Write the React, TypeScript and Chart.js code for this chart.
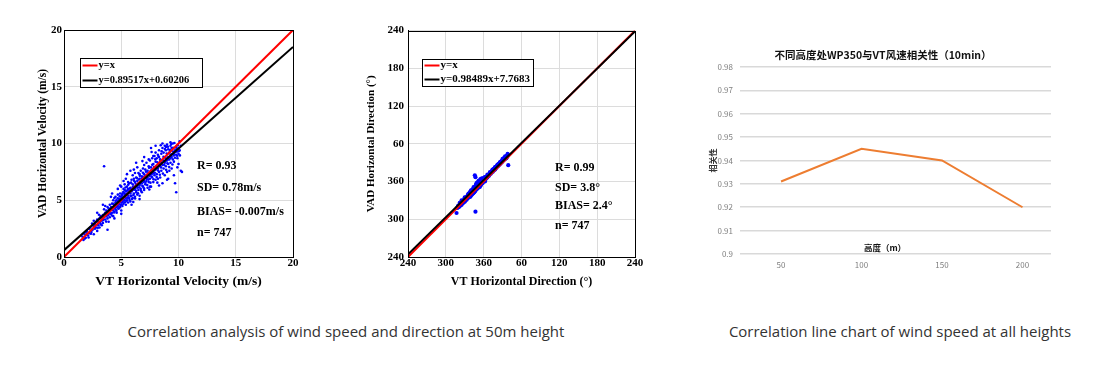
import React, { useEffect, useRef } from "react";
import { Chart, registerables } from "chart.js";

Chart.register(...registerables);

// ---------- Data ----------
const speedRange = [0, 20];
const speedTicks = [0, 5, 10, 15, 20];
const speedFit = { slope: 0.89517, intercept: 0.60206 };
const speedStats = ["R= 0.93", "SD= 0.78m/s", "BIAS= -0.007m/s", "n= 747"];
const speedLegend = ["y=x", "y=0.89517x+0.60206"];

// VT speed (x), VAD speed (y), m/s
const speedPairs: number[][] = [
  [1.6, 1.8], [1.7, 1.5], [1.8, 2.0], [1.9, 1.7], [2.0, 2.3], [2.1, 1.9], [2.2, 2.5], [2.2, 2.1], [2.3, 2.6], [2.4, 2.2],
  [2.5, 2.8], [2.5, 2.4], [2.6, 2.0], [2.7, 2.9], [2.7, 2.5], [2.8, 3.1], [2.8, 2.6], [2.9, 2.3], [2.9, 3.3], [3.0, 2.8],
  [3.0, 3.1], [3.1, 2.6], [3.1, 3.4], [3.2, 2.9], [3.2, 3.6], [3.3, 3.2], [3.3, 2.8], [3.4, 3.7], [3.4, 3.0], [3.5, 3.5],
  [3.5, 8.0], [3.5, 4.2], [3.6, 3.3], [3.6, 3.9], [3.8, 2.4], [3.7, 3.6], [3.7, 4.1], [3.8, 3.4], [3.8, 4.4], [3.9, 3.8],
  [3.9, 3.1], [4.0, 4.0], [4.0, 4.6], [4.0, 3.5], [4.1, 4.2], [4.1, 3.8], [4.2, 4.7], [4.2, 3.9], [4.3, 4.3], [4.3, 5.0],
  [4.3, 3.6], [4.4, 4.5], [4.4, 4.0], [4.5, 4.8], [4.5, 4.2], [4.5, 5.3], [4.6, 4.4], [4.6, 3.9], [4.7, 4.9], [4.7, 4.5],
  [4.7, 5.5], [4.8, 4.3], [4.8, 5.1], [4.8, 4.7], [4.9, 5.0], [4.9, 4.4], [4.9, 5.6], [5.0, 4.8], [5.0, 5.3], [5.0, 4.1],
  [5.0, 6.2], [5.1, 5.0], [5.1, 5.6], [5.1, 4.5], [5.2, 5.3], [5.2, 6.0], [5.2, 4.7], [5.3, 5.5], [5.3, 5.0], [5.3, 6.4],
  [5.4, 5.2], [5.4, 5.8], [5.4, 4.6], [5.5, 5.6], [5.5, 6.2], [5.5, 5.0], [5.5, 7.3], [5.6, 5.4], [5.6, 6.0], [5.6, 4.8],
  [5.7, 5.8], [5.7, 6.5], [5.7, 5.2], [5.8, 5.6], [5.8, 6.1], [5.8, 4.9], [5.9, 6.0], [5.9, 6.8], [5.9, 5.4], [6.0, 5.9],
  [6.0, 6.4], [6.0, 5.2], [6.0, 7.2], [6.1, 6.2], [6.1, 5.6], [6.1, 6.9], [6.2, 6.0], [6.2, 6.6], [6.2, 5.3], [6.3, 6.3],
  [6.3, 7.0], [6.3, 5.7], [6.4, 6.1], [6.4, 6.7], [6.4, 5.5], [6.5, 6.5], [6.5, 7.4], [6.5, 5.9], [6.6, 6.3], [6.6, 6.9],
  [6.6, 5.4], [6.7, 6.7], [6.7, 7.6], [6.7, 6.0], [6.8, 6.5], [6.8, 7.1], [6.8, 5.7], [6.9, 6.9], [6.9, 7.8], [6.9, 6.2],
  [7.0, 6.7], [7.0, 7.3], [7.0, 5.9], [7.0, 8.1], [7.1, 7.0], [7.1, 6.4], [7.1, 7.7], [7.2, 7.2], [7.2, 6.7], [7.2, 8.3],
  [7.3, 7.0], [7.3, 7.6], [7.3, 6.1], [7.4, 7.3], [7.4, 8.0], [7.4, 6.6], [7.5, 7.5], [7.5, 8.5], [7.5, 6.9], [7.6, 7.3],
  [7.6, 7.9], [7.6, 6.2], [7.7, 7.7], [7.7, 8.7], [7.7, 7.0], [7.8, 7.5], [7.8, 8.2], [7.8, 6.6], [7.9, 7.9], [7.9, 8.9],
  [7.9, 7.2], [8.0, 7.7], [8.0, 8.4], [8.0, 6.8], [8.0, 9.2], [8.1, 8.0], [8.1, 7.3], [8.1, 8.7], [8.2, 7.8], [8.2, 9.0],
  [8.2, 6.9], [8.3, 8.2], [8.3, 7.5], [8.3, 9.4], [8.4, 8.0], [8.4, 8.6], [8.4, 7.0], [8.5, 8.3], [8.5, 9.1], [8.5, 7.6],
  [8.6, 8.1], [8.6, 9.6], [8.6, 6.5], [8.7, 8.5], [8.7, 7.8], [8.7, 9.2], [8.8, 8.3], [8.8, 9.8], [8.8, 7.2], [8.9, 8.7],
  [8.9, 8.0], [8.9, 9.4], [9.0, 8.5], [9.0, 7.5], [9.0, 9.9], [9.1, 8.8], [9.1, 8.2], [9.1, 9.5], [9.2, 8.6], [9.2, 9.2],
  [9.2, 7.6], [9.3, 9.0], [9.3, 8.3], [9.3, 9.8], [9.4, 8.8], [9.4, 7.8], [9.5, 9.3], [9.5, 8.6], [9.5, 10.0], [9.6, 9.1],
  [9.6, 8.4], [9.7, 9.4], [9.7, 6.5], [9.8, 9.0], [9.8, 5.7], [9.8, 9.7], [9.9, 9.3], [9.9, 8.7], [10.0, 9.6], [10.0, 9.1],
  [10.1, 10.2], [10.1, 9.4], [10.2, 7.6], [10.3, 7.5], [10.2, 9.8], [6.2, 7.4], [5.6, 6.6], [4.4, 5.2], [3.6, 4.5], [2.6, 3.2],
  [7.4, 8.6], [8.3, 8.8], [6.9, 7.0], [5.3, 5.9], [4.6, 5.0], [3.9, 4.3], [6.6, 7.3], [7.8, 8.9], [8.9, 9.7], [9.4, 9.6],
  [2.35, 2.05], [2.63, 2.71], [2.95, 2.58], [3.15, 3.02], [3.27, 3.49], [3.42, 3.25], [3.55, 3.78], [3.68, 3.12], [3.73, 3.95], [3.86, 3.67],
  [3.94, 4.21], [4.05, 3.83], [4.12, 4.41], [4.18, 3.66], [4.27, 4.12], [4.33, 4.68], [4.38, 3.93], [4.46, 4.33], [4.52, 4.95], [4.58, 4.07],
  [4.63, 4.62], [4.69, 5.18], [4.74, 4.26], [4.81, 4.88], [4.86, 5.34], [4.92, 4.59], [4.97, 5.12], [5.03, 4.63], [5.07, 5.45], [5.13, 4.86],
  [5.18, 5.72], [5.24, 5.07], [5.29, 5.61], [5.33, 4.82], [5.37, 6.12], [5.42, 5.43], [5.46, 4.95], [5.52, 5.85], [5.57, 5.21], [5.61, 6.37],
  [5.66, 5.63], [5.72, 5.05], [5.76, 6.02], [5.81, 5.38], [5.86, 6.55], [5.91, 5.77], [5.95, 5.12], [6.02, 6.18], [6.07, 5.46], [6.12, 6.72],
  [6.16, 5.93], [6.21, 5.15], [6.26, 6.45], [6.31, 5.84], [6.36, 6.95], [6.41, 6.28], [6.46, 5.62], [6.52, 6.83], [6.57, 6.12], [6.62, 7.15],
  [6.68, 6.46], [6.73, 5.83], [6.78, 6.92], [6.84, 6.28], [6.89, 7.42], [6.94, 6.62], [6.99, 6.05], [7.05, 7.12], [7.11, 6.55], [7.16, 7.52],
  [7.22, 6.88], [7.27, 6.35], [7.33, 7.38], [7.38, 6.82], [7.43, 7.86], [7.49, 7.15], [7.55, 6.55], [7.61, 7.62], [7.66, 7.08], [7.71, 8.12],
  [7.76, 7.35], [7.82, 6.85], [7.87, 7.92], [7.93, 7.42], [7.98, 8.62], [8.04, 7.95], [8.09, 7.05], [8.15, 8.35], [8.21, 7.62], [8.26, 8.85],
  [8.32, 8.02], [8.37, 7.25], [8.42, 8.45], [8.48, 7.88], [8.53, 9.32], [8.58, 8.52], [8.64, 7.35], [8.69, 8.82], [8.75, 8.12], [8.81, 9.52],
  [8.86, 8.42], [8.92, 7.68], [8.97, 9.12], [9.03, 8.25], [9.08, 9.72], [9.14, 8.62], [9.19, 7.92], [9.25, 9.42], [9.31, 8.72], [9.36, 9.95],
  [9.42, 9.05], [9.47, 8.15], [9.53, 9.62], [9.58, 8.95], [9.64, 10.05], [9.69, 8.75], [9.75, 9.25], [9.82, 9.52], [9.88, 8.92], [9.93, 9.85],
  [10.05, 9.35], [10.12, 8.95], [3.05, 3.72], [2.45, 2.95], [2.15, 1.72], [1.95, 2.15], [1.82, 1.62], [7.45, 5.95], [6.05, 4.85], [8.15, 6.55],
  [9.1, 6.9], [5.2, 6.7], [4.1, 5.3], [6.85, 8.45], [7.65, 9.25], [8.45, 9.85],
  [6.3, 8.3], [7.0, 8.8], [5.8, 7.6], [8.6, 10.0], [9.3, 10.1], [7.6, 9.6], [6.4, 7.9], [4.9, 6.3], [4.2, 5.6], [3.4, 4.6],
  [2.9, 3.9], [9.6, 7.2], [9.0, 6.8], [8.3, 6.3], [7.5, 6.2], [6.6, 5.1], [5.9, 4.6], [5.0, 3.8], [4.4, 3.4], [10.0, 8.2],
  [9.9, 7.9], [8.0, 9.8], [6.1, 7.7], [5.4, 6.9], [4.7, 6.0],
];

const dirRange = [240, 600];
const dirTickLabels = ["240", "300", "360", "60", "120", "180", "240"];
const dirFit = { slope: 0.98489, intercept: 7.7683 };
const dirStats = ["R= 0.99", "SD= 3.8°", "BIAS= 2.4°", "n= 747"];
const dirLegend = ["y=x", "y=0.98489x+7.7683"];

// VT direction (x), VAD direction (y), degrees (values above 360 wrap past north)
const dirPairs: number[][] = [
  [317, 310], [318, 318], [319, 320], [320, 319], [321, 322], [322, 321], [323, 324], [323, 322], [324, 325], [325, 323],
  [325, 326], [326, 327], [326, 325], [327, 328], [327, 326], [328, 330], [328, 327], [329, 329], [329, 331], [330, 328],
  [330, 331], [331, 333], [331, 330], [332, 332], [332, 335], [333, 331], [333, 334], [334, 336], [334, 333], [335, 337],
  [335, 334], [335, 339], [336, 336], [336, 338], [337, 335], [337, 340], [337, 338], [338, 337], [338, 341], [339, 339],
  [339, 336], [339, 342], [340, 340], [340, 338], [340, 343], [341, 341], [341, 339], [341, 344], [342, 342], [342, 345],
  [342, 340], [343, 344], [343, 341], [343, 347], [344, 345], [344, 342], [344, 348], [345, 346], [345, 343], [345, 350],
  [346, 348], [346, 345], [346, 370], [347, 349], [347, 346], [347, 367], [347, 312], [348, 350], [348, 347], [348, 353],
  [349, 351], [349, 348], [349, 355], [350, 352], [350, 349], [350, 356], [351, 353], [351, 350], [351, 357], [352, 355],
  [352, 352], [352, 359], [353, 356], [353, 353], [353, 360], [354, 357], [354, 354], [354, 361], [355, 358], [355, 355],
  [355, 362], [356, 359], [356, 356], [356, 362], [357, 360], [357, 358], [357, 363], [358, 361], [358, 359], [359, 362],
  [359, 360], [360, 362], [360, 361], [361, 363], [361, 365], [362, 364], [362, 362], [363, 365], [364, 366], [365, 367],
  [366, 368], [367, 370], [368, 370], [369, 372], [370, 373], [371, 374], [372, 375], [373, 376], [374, 377], [375, 378],
  [376, 380], [377, 380], [378, 381], [379, 383], [380, 383], [381, 385], [382, 385], [383, 387], [384, 388], [385, 389],
  [386, 390], [387, 391], [388, 392], [389, 393], [390, 394], [391, 395], [392, 397], [393, 396], [394, 398], [395, 399],
  [396, 400], [397, 401], [398, 402], [399, 386], [396, 397], [393, 398], [389, 391], [384, 386], [378, 379], [372, 374],
  [319.5, 321.2], [321.3, 320.1], [322.6, 323.8], [324.2, 323.1], [325.7, 327.4], [326.9, 325.8], [328.3, 329.6], [329.6, 328.2], [330.8, 332.7], [331.9, 331.1],
  [333.2, 335.4], [334.5, 334.2], [335.8, 336.1], [336.4, 339.6], [337.7, 336.8], [338.5, 340.3], [339.3, 338.1], [340.6, 341.8], [341.4, 343.2], [342.8, 341.4],
  [343.5, 345.9], [344.3, 343.6], [345.2, 347.4], [345.9, 344.1], [346.6, 349.8], [347.4, 347.2], [348.2, 351.6], [348.9, 349.2], [349.6, 353.4], [350.4, 351.1],
  [351.2, 354.8], [351.8, 352.3], [352.6, 357.1], [353.3, 354.6], [354.1, 358.9], [354.8, 356.2], [355.6, 360.4], [356.3, 357.6], [357.1, 361.8], [357.8, 359.4],
  [358.6, 363.2], [359.3, 361.1], [360.2, 364.3], [361.1, 362.2], [362.3, 366.1], [363.4, 364.4], [364.6, 367.8], [365.8, 366.3], [367.1, 369.6], [368.4, 369.1],
  [369.7, 371.8], [371.2, 372.3], [372.6, 375.9], [374.1, 375.2], [375.5, 377.1], [377.2, 378.8], [378.7, 380.4], [380.3, 382.1], [381.8, 383.9], [383.4, 385.2],
  [385.1, 387.6], [386.7, 388.4], [388.3, 390.6], [390.1, 392.3], [391.6, 394.7], [393.4, 395.1], [395.2, 397.6], [396.8, 399.3], [398.2, 400.8], [351.5, 360.2],
  [349.2, 358.1], [353.8, 351.2], [347.8, 354.3], [344.8, 350.2], [355.3, 353.6], [358.2, 357.3], [362.1, 360.2], [340.2, 345.1], [338.2, 343.2], [356.5, 364.5],
  [360.8, 366.2], [336, 341], [340, 346], [344, 351], [348, 356], [352, 361], [355, 364], [342, 347], [346, 352], [350, 358],
  [354, 362], [358, 365], [362, 367], [366, 371], [370, 375], [374, 379], [378, 383], [382, 387], [386, 391], [390, 396],
  [394, 400], [398, 404], [330, 335], [325, 330], [322, 326],
];

const heights = [50, 100, 150, 200];
const correlation = [0.931, 0.945, 0.94, 0.92];
const corrTitle = "不同高度处WP350与VT风速相关性（10min）";
const corrXTitle = "高度（m）";
const corrYTitle = "相关性";

const caption1 = "Correlation analysis of wind speed and direction at 50m height";
const caption2 = "Correlation line chart of wind speed at all heights";

// ---------- Styling ----------
const SERIF = "'Liberation Serif', 'Times New Roman', serif";
const CJK = "'Noto Sans CJK SC', 'Noto Sans', sans-serif";

type Overlay = {
  legend: string[];
  box: { x: number; y: number; w: number; h: number; rows: number[] };
  legendFont: number;
  stats: string[];
  statsX: number;
  statsY: number[];
};

function makeOverlay(o: Overlay) {
  return {
    id: "overlay",
    afterDraw(chart: any) {
      const { ctx, chartArea: a } = chart;
      ctx.save();
      ctx.strokeStyle = "#000";
      ctx.lineWidth = 1;
      ctx.strokeRect(Math.round(a.left) + 0.5, Math.round(a.top) + 0.5, Math.round(a.right - a.left), Math.round(a.bottom - a.top));
      const bx = Math.round(a.left + o.box.x) + 0.5;
      const by = Math.round(a.top + o.box.y) + 0.5;
      ctx.fillStyle = "#fff";
      ctx.fillRect(bx, by, o.box.w, o.box.h);
      ctx.strokeRect(bx, by, o.box.w, o.box.h);
      const colors = ["#ff0000", "#000000"];
      ctx.font = `bold ${o.legendFont}px ${SERIF}`;
      ctx.textBaseline = "middle";
      ctx.textAlign = "left";
      o.legend.forEach((t, i) => {
        const y = by + o.box.rows[i];
        ctx.strokeStyle = colors[i];
        ctx.lineWidth = 2;
        ctx.beginPath();
        ctx.moveTo(bx + 2, y);
        ctx.lineTo(bx + 17, y);
        ctx.stroke();
        ctx.fillStyle = "#000";
        ctx.fillText(t, bx + 18, y);
      });
      ctx.font = `bold 12px ${SERIF}`;
      ctx.fillStyle = "#000";
      o.stats.forEach((t, i) => {
        ctx.fillText(t, a.left + o.statsX, a.top + o.statsY[i]);
      });
      ctx.restore();
    },
  };
}

function useChart(build: () => any) {
  const ref = useRef<HTMLCanvasElement | null>(null);
  useEffect(() => {
    if (!ref.current) return;
    const chart = new Chart(ref.current, build());
    return () => chart.destroy();
  }, []);
  return ref;
}

function scatterConfig(opts: {
  pairs: number[][];
  range: number[];
  fit: { slope: number; intercept: number };
  step: number;
  tickLabel: (v: number) => string;
  xTitle: string;
  yTitle: string;
  xTitleSize: number;
  yTitleSize: number;
  yTitlePad: number;
  xTitlePad: number;
  yWidth: number;
  xHeight: number;
  yTickPad: number;
  layoutPad: any;
  overlay: Overlay;
  pointRadius: number;
}) {
  const idLine = opts.range.map((x) => ({ x, y: x }));
  const fitLine = opts.range.map((x) => ({ x, y: opts.fit.slope * x + opts.fit.intercept }));
  const tickFont = { family: SERIF, size: 11, weight: "bold" as const };
  return {
    type: "scatter",
    data: {
      datasets: [
        { data: fitLine, showLine: true, borderColor: "#000", borderWidth: 2, pointRadius: 0 },
        { data: idLine, showLine: true, borderColor: "#ff0000", borderWidth: 2, pointRadius: 0 },
        {
          data: opts.pairs.map(([x, y]) => ({ x, y })),
          pointRadius: opts.pointRadius,
          pointBackgroundColor: "#0000ff",
          pointBorderWidth: 0,
          showLine: false,
        },
      ],
    },
    options: {
      responsive: false,
      animation: false,
      layout: { padding: opts.layoutPad },
      plugins: { legend: { display: false }, tooltip: { enabled: false } },
      scales: {
        x: {
          type: "linear",
          min: opts.range[0],
          max: opts.range[1],
          afterFit: (s: any) => { s.height = opts.xHeight; },
          ticks: { stepSize: opts.step, font: tickFont, color: "#000", padding: 0, maxRotation: 0, callback: (v: any) => opts.tickLabel(v) },
          grid: { color: "#dcdcdc", drawTicks: false },
          border: { display: true, color: "#000" },
          title: { display: true, text: opts.xTitle, color: "#000", font: { family: SERIF, size: opts.xTitleSize, weight: "bold" }, padding: { top: 0, bottom: opts.xTitlePad } },
        },
        y: {
          type: "linear",
          min: opts.range[0],
          max: opts.range[1],
          afterFit: (s: any) => { s.width = opts.yWidth; },
          ticks: { stepSize: opts.step, font: tickFont, color: "#000", padding: opts.yTickPad, callback: (v: any) => opts.tickLabel(v) },
          grid: { color: "#dcdcdc", drawTicks: false },
          border: { display: true, color: "#000" },
          title: { display: true, text: opts.yTitle, color: "#000", font: { family: SERIF, size: opts.yTitleSize, weight: "bold" }, padding: { top: opts.yTitlePad, bottom: 0 } },
        },
      },
    },
    plugins: [makeOverlay(opts.overlay)],
  };
}

function SpeedChart() {
  const ref = useChart(() =>
    scatterConfig({
      pairs: speedPairs,
      range: speedRange,
      fit: speedFit,
      step: speedTicks[1] - speedTicks[0],
      tickLabel: (v) => String(v),
      xTitle: "VT Horizontal Velocity (m/s)",
      yTitle: "VAD Horizontal Velocity (m/s)",
      xTitleSize: 13.5,
      yTitleSize: 11.5,
      yTitlePad: 6,
      xTitlePad: 0,
      yWidth: 34,
      xHeight: 33,
      yTickPad: 2,
      layoutPad: { top: 10, right: 27, left: 0, bottom: 0 },
      pointRadius: 1.3,
      overlay: {
        legend: speedLegend,
        box: { x: 16, y: 28, w: 122, h: 29, rows: [7, 22] },
        legendFont: 10.5,
        stats: speedStats,
        statsX: 133,
        statsY: [136, 158, 182, 203],
      },
    })
  );
  return <canvas ref={ref} width={290} height={270} style={{ position: "absolute", left: 30, top: 20, width: 290, height: 270 }} />;
}

function DirectionChart() {
  const ref = useChart(() =>
    scatterConfig({
      pairs: dirPairs,
      range: dirRange,
      fit: dirFit,
      step: 60,
      tickLabel: (v) => dirTickLabels[Math.round((v - dirRange[0]) / 60)] ?? "",
      xTitle: "VT Horizontal Direction (°)",
      yTitle: "VAD Horizontal Direction (°)",
      xTitleSize: 12,
      yTitleSize: 11,
      yTitlePad: 5,
      xTitlePad: 1,
      yWidth: 48,
      xHeight: 33,
      yTickPad: 4,
      layoutPad: { top: 10, right: 25, left: 0, bottom: 0 },
      pointRadius: 2.1,
      overlay: {
        legend: dirLegend,
        box: { x: 14, y: 28, w: 111, h: 27, rows: [6, 20] },
        legendFont: 11,
        stats: dirStats,
        statsX: 147,
        statsY: [137, 157, 175, 195],
      },
    })
  );
  return <canvas ref={ref} width={300} height={270} style={{ position: "absolute", left: 360, top: 20, width: 300, height: 270 }} />;
}

function CorrelationChart() {
  const ref = useChart(() => ({
    type: "line",
    data: {
      datasets: [
        {
          data: heights.map((h, i) => ({ x: h, y: correlation[i] })),
          borderColor: "#ed7d31",
          borderWidth: 2,
          pointRadius: 0,
          tension: 0,
        },
      ],
    },
    options: {
      responsive: false,
      animation: false,
      layout: { padding: { top: 37, right: 29, left: 0, bottom: 0 } },
      plugins: { legend: { display: false }, tooltip: { enabled: false } },
      scales: {
        x: {
          type: "linear",
          min: 24.5,
          max: 217.7,
          afterFit: (s: any) => { s.height = 26; },
          afterBuildTicks: (s: any) => { s.ticks = heights.map((v) => ({ value: v })); },
          ticks: { font: { family: CJK, size: 8 }, color: "#7f7f7f", padding: 6, maxRotation: 0, autoSkip: false },
          grid: { display: false, drawTicks: false },
          border: { display: false },
        },
        y: {
          min: 0.9,
          max: 0.98,
          afterFit: (s: any) => { s.width = 40; },
          ticks: { stepSize: 0.01, font: { family: CJK, size: 8 }, color: "#7f7f7f", padding: 7, callback: (v: any) => String(+Number(v).toFixed(2)) },
          grid: { color: "#d9d9d9", drawTicks: false, lineWidth: 1.5 },
          border: { display: false },
          title: { display: true, text: corrYTitle, color: "#333", font: { family: CJK, size: 8, weight: "bold" }, padding: { top: 8, bottom: 0 } },
        },
      },
    },
    plugins: [
      {
        id: "corrText",
        afterDraw(chart: any) {
          const { ctx } = chart;
          ctx.save();
          ctx.fillStyle = "#111";
          ctx.textAlign = "center";
          ctx.textBaseline = "middle";
          ctx.font = `bold 10.5px ${CJK}`;
          ctx.fillText(corrTitle, 183, 25);
          ctx.font = `bold 8.5px ${CJK}`;
          ctx.fillText(corrXTitle, 185, 218);
          ctx.restore();
        },
      },
    ],
  }));
  return <canvas ref={ref} width={380} height={250} style={{ position: "absolute", left: 700, top: 30, width: 380, height: 250 }} />;
}

export default function App() {
  const captionStyle: React.CSSProperties = {
    position: "absolute",
    top: 321,
    fontFamily: "'Open Sans', 'Noto Sans', sans-serif",
    fontSize: 15,
    color: "#333",
    textAlign: "center",
    whiteSpace: "nowrap",
    lineHeight: "20px",
  };
  return (
    <div style={{ position: "fixed", left: 0, top: 0, width: 1100, height: 368, background: "#fff", overflow: "hidden" }}>
      <SpeedChart />
      <DirectionChart />
      <CorrelationChart />
      <div style={{ ...captionStyle, left: 46, width: 600 }}>{caption1}</div>
      <div style={{ ...captionStyle, left: 700, width: 400 }}>{caption2}</div>
    </div>
  );
}
